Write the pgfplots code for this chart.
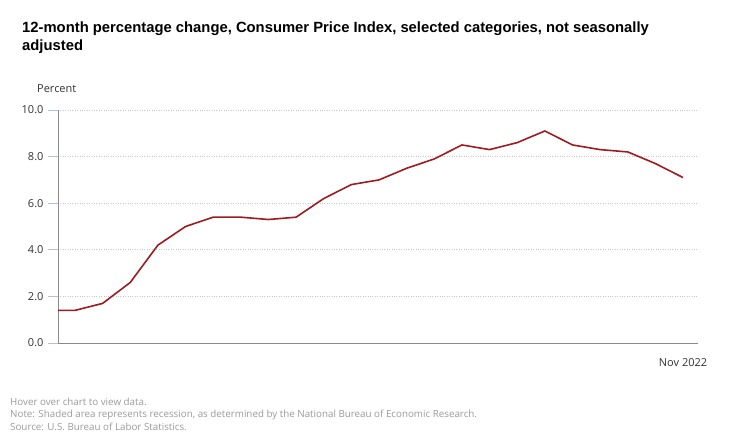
\documentclass[border=0pt]{standalone}
\usepackage{fontspec}
\setmainfont{Open Sans}
\newfontfamily\titlefont{Liberation Sans}
\usepackage{pgfplots}
\pgfplotsset{compat=1.18}
\definecolor{linered}{HTML}{9E1B20}
\definecolor{tickblue}{HTML}{AFC0E4}
\definecolor{gridgray}{HTML}{C8C8C8}
\definecolor{axisgray}{HTML}{8A8A8A}
\definecolor{labgray}{HTML}{333333}
\definecolor{footgray}{HTML}{9A9A9A}
\begin{document}
\begin{tikzpicture}
\path[use as bounding box] (0pt,0pt) rectangle (740pt,440pt);
\node[anchor=base west,inner sep=0,font=\titlefont\bfseries\fontsize{14.8}{17}\selectfont,text=black] at (22pt,407pt) {12-month percentage change, Consumer Price Index, selected categories, not seasonally};
\node[anchor=base west,inner sep=0,font=\titlefont\bfseries\fontsize{14.8}{17}\selectfont,text=black] at (22pt,389pt) {adjusted};
\node[anchor=base west,inner sep=0,font=\fontsize{11}{13}\selectfont,text=labgray] at (37pt,347pt) {Percent};
\begin{axis}[
  at={(58pt,97pt)}, anchor=south west,
  scale only axis, width=640pt, height=233pt,
  xmin=-0.615, xmax=22.54, ymin=0, ymax=10,
  axis x line=bottom, axis y line=left,
  axis line style={axisgray, line width=0.8pt, -},
  ytick={0,2,4,6,8,10},
  yticklabels={0.0,2.0,4.0,6.0,8.0,10.0},
  ymajorgrids, grid style={gridgray, dotted, line width=0.7pt},
  xtick={22}, xticklabels={Nov 2022},
  tick align=outside,
  every tick/.style={tickblue, line width=1pt},
  xtick style={draw=none},
  major tick length=10pt,
  ticklabel style={font=\fontsize{11}{13}\selectfont, text=labgray},
  yticklabel style={xshift=-1pt},
  xticklabel style={yshift=-2pt},
  clip=false,
]
\addplot[linered, line width=1.6pt, line join=round] coordinates {
(-0.615,1.4) (0,1.4) (1,1.7) (2,2.6) (3,4.2) (4,5.0) (5,5.4) (6,5.4) (7,5.3) (8,5.4)
(9,6.2) (10,6.8) (11,7.0) (12,7.5) (13,7.9) (14,8.5) (15,8.3) (16,8.6) (17,9.1)
(18,8.5) (19,8.3) (20,8.2) (21,7.7) (22,7.1)
};
\end{axis}
\node[anchor=base west,inner sep=0,font=\fontsize{9.8}{12}\selectfont,text=footgray] at (10pt,35pt) {Hover over chart to view data.};
\node[anchor=base west,inner sep=0,font=\fontsize{9.8}{12}\selectfont,text=footgray] at (10pt,22.5pt) {Note: Shaded area represents recession, as determined by the National Bureau of Economic Research.};
\node[anchor=base west,inner sep=0,font=\fontsize{9.8}{12}\selectfont,text=footgray] at (10pt,10pt) {Source: U.S. Bureau of Labor Statistics.};
\end{tikzpicture}
\end{document}
